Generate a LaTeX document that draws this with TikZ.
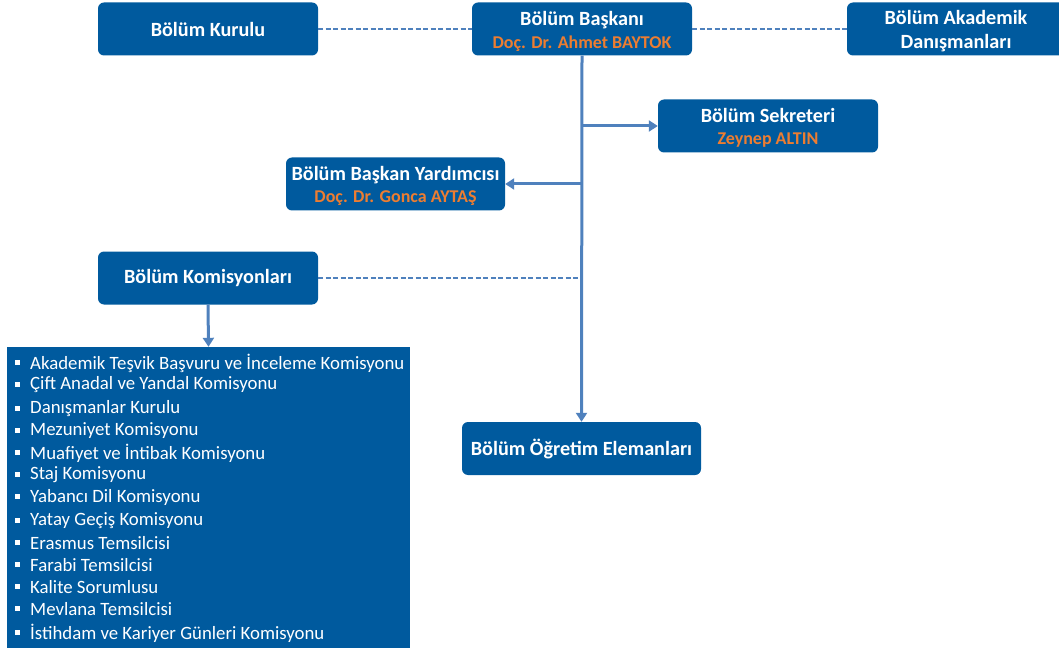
\documentclass[tikz,border=0pt]{standalone}
\usepackage{fontspec}
\setmainfont{Carlito}
\usetikzlibrary{arrows.meta}
\definecolor{boxblue}{RGB}{0,90,158}
\definecolor{lineblue}{RGB}{79,129,189}
\definecolor{nameorange}{RGB}{237,125,49}
\newcommand{\pname}[1]{\textcolor{nameorange}{\fontsize{18}{23}\selectfont #1}}
\tikzset{
  orgbox/.style={fill=boxblue, rounded corners=6pt, text=white, font=\bfseries\fontsize{20.2}{23}\selectfont, align=center, inner sep=0pt},
  conn/.style={draw=lineblue, line width=3pt, -{Triangle[length=9pt,width=11pt]}},
  dashconn/.style={draw=lineblue, line width=1.2pt, dash pattern=on 5pt off 2.5pt},
  item/.style={anchor=west, text=white, font=\fontsize{18.8}{22}\selectfont, inner sep=0pt},
  bul/.style={fill=white, minimum size=5pt, inner sep=0pt}
}
\begin{document}
\begin{tikzpicture}[x=1pt,y=-1pt]
\useasboundingbox (0,0) rectangle (1059,652);
% boxes
\node[orgbox, minimum width=220pt, minimum height=53pt] (kurul) at (208,29) {Bölüm Kurulu};
\node[orgbox, minimum width=220pt, minimum height=53pt] (baskan) at (582,29) {};
\node[font=\bfseries\fontsize{20.2}{23}\selectfont, align=center, text=white, inner sep=0pt] (baskant) at (582,31.5) {Bölüm Başkanı\\\pname{Doç. Dr. Ahmet BAYTOK}};
\node[orgbox, minimum width=226pt, minimum height=53pt] (akad) at (960,29) {};
\node[font=\bfseries\fontsize{20.2}{24.5}\selectfont, align=center, text=white, inner sep=0pt] (akadt) at (956,31) {Bölüm Akademik\\Danışmanları};
\node[orgbox, minimum width=220pt, minimum height=53pt] (sekr) at (768,126) {};
\node[font=\bfseries\fontsize{20.2}{22}\selectfont, align=center, text=white, inner sep=0pt] (sekrt) at (768,128) {Bölüm Sekreteri\\\pname{Zeynep ALTIN}};
\node[orgbox, minimum width=219pt, minimum height=53pt] (yard) at (395.5,184) {};
\node[font=\bfseries\fontsize{20.2}{22}\selectfont, align=center, text=white, inner sep=0pt] (yardt) at (395.5,186) {Bölüm Başkan Yardımcısı\\\pname{Doç. Dr. Gonca AYTAŞ}};
\node[orgbox, minimum width=220pt, minimum height=53pt] (komis) at (208,278) {Bölüm Komisyonları};
\node[orgbox, minimum width=239pt, minimum height=53pt] (ogret) at (581.5,448.5) {Bölüm Öğretim Elemanları};
\node[fill=boxblue, minimum width=403pt, minimum height=301pt, inner sep=0pt] (liste) at (208.5,497.5) {};
% list items
\foreach \yy/\txt [count=\i] in {363/Akademik Teşvik Başvuru ve İnceleme Komisyonu,385/Çift Anadal ve Yandal Komisyonu,409/Danışmanlar Kurulu,431/Mezuniyet Komisyonu,453/Muafiyet ve İntibak Komisyonu,475/Staj Komisyonu,497/Yabancı Dil Komisyonu,521/Yatay Geçiş Komisyonu,543/Erasmus Temsilcisi,565/Farabi Temsilcisi,587/Kalite Sorumlusu,609/Mevlana Temsilcisi,633/İstihdam ve Kariyer Günleri Komisyonu}{
  \node[bul] (b\i) at (17,\yy-1) {};
  \node[item] (t\i) at (30,\yy) {\txt};
}
% connectors
\coordinate (jsekr) at (baskan.south |- sekr.west);
\coordinate (jyard) at (baskan.south |- yard.east);
\coordinate (jkomis) at (baskan.south |- komis.east);
\draw[conn] (baskan.south) -- (ogret.north);
\draw[conn] (jsekr) -- (sekr.west);
\draw[conn] (jyard) -- (yard.east);
\draw[conn] (komis.south) -- (liste.north);
\draw[dashconn] (kurul.east) -- (baskan.west);
\draw[dashconn] (baskan.east) -- (akad.west);
\draw[dashconn] (komis.east) -- (jkomis);
\end{tikzpicture}
\end{document}
